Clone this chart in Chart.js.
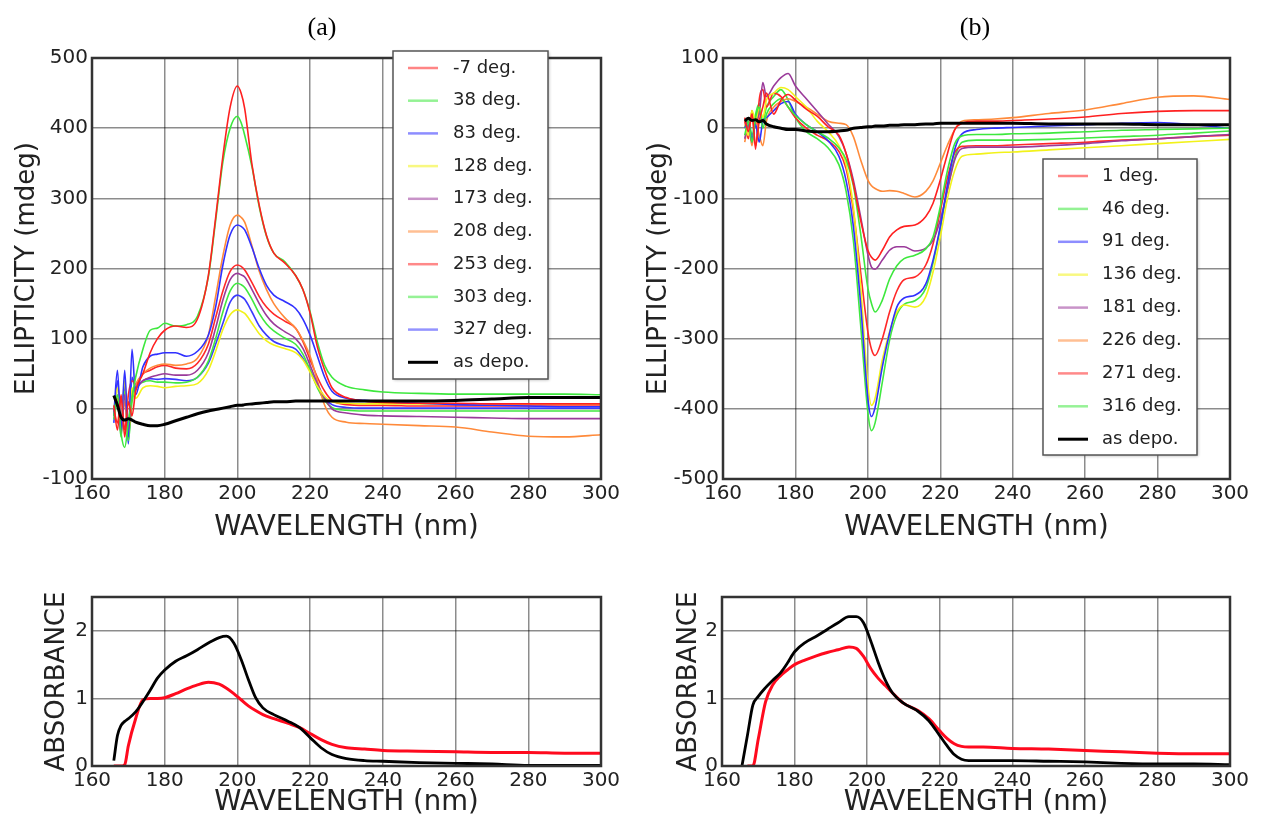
<!DOCTYPE html>
<html>
<head>
<meta charset="utf-8">
<script src="https://cdn.jsdelivr.net/npm/chart.js@4.4.0/dist/chart.umd.min.js"></script>
<style>
  body { margin: 0; background: #fff; width: 1262px; height: 825px; overflow: hidden; position: relative; }
  canvas { position: absolute; }
</style>
</head>
<body>
<canvas id="cdA" width="631" height="560" style="left:0;top:0"></canvas>
<canvas id="cdB" width="631" height="560" style="left:631px;top:0"></canvas>
<canvas id="absA" width="631" height="265" style="left:0;top:560px"></canvas>
<canvas id="absB" width="631" height="265" style="left:631px;top:560px"></canvas>
<script>
// wavelengths (nm) for the CD spectra
const W_CD = [166, 167, 168, 169, 170, 171, 172, 174, 176, 178, 180, 183, 186, 189, 192, 194, 196, 198, 200, 201, 202, 204, 206, 208, 210, 213, 216, 218, 220, 222, 224, 226, 230, 235, 240, 250, 260, 270, 280, 290, 300];

// (a) ellipticity, mdeg
const A_LABELS = ['-7 deg.', '38 deg.', '83 deg.', '128 deg.', '173 deg.', '208 deg.', '253 deg.', '303 deg.', '327 deg.'];
const A_M7  = [5, -30, 20, -40, 10, -10, 25, 50, 80, 100, 112, 118, 116, 128, 190, 272, 360, 430, 460, 450, 428, 348, 290, 247, 222, 208, 190, 170, 136, 88, 55, 30, 16, 11, 9, 8, 8, 7, 7, 7, 7];
const A_38  = [-10, 20, -35, -55, -20, 15, 45, 85, 112, 115, 122, 118, 120, 132, 188, 268, 352, 400, 417, 408, 390, 345, 288, 246, 222, 210, 190, 170, 138, 95, 62, 45, 32, 27, 24, 22, 21, 21, 21, 21, 20];
const A_83  = [-10, 55, -30, 55, -40, 85, 20, 60, 75, 78, 80, 80, 75, 82, 105, 145, 205, 248, 262, 260, 255, 230, 200, 176, 162, 153, 143, 128, 105, 75, 45, 25, 15, 12, 10, 8, 6, 5, 4, 3, 3];
const A_128 = [0, 30, -15, 40, -20, 30, 15, 30, 33, 32, 30, 32, 33, 36, 55, 82, 113, 134, 141, 139, 136, 122, 107, 97, 91, 86, 80, 70, 52, 32, 18, 10, 8, 7, 7, 7, 7, 7, 7, 7, 7];
const A_173 = [-5, 10, -35, 20, -30, 25, 30, 40, 45, 48, 50, 48, 48, 55, 80, 115, 155, 184, 193, 191, 188, 170, 150, 133, 121, 110, 100, 86, 62, 36, 15, 0, -6, -9, -10, -11, -12, -13, -14, -14, -14];
const A_208 = [-10, 15, -25, 10, -35, 20, 35, 50, 58, 62, 64, 62, 64, 72, 105, 160, 218, 262, 276, 273, 266, 232, 196, 170, 150, 130, 115, 98, 75, 40, 5, -12, -19, -21, -22, -24, -26, -33, -39, -40, -37];
const A_253 = [0, -20, 15, -30, 20, 40, 35, 50, 55, 60, 62, 58, 57, 65, 92, 130, 168, 196, 205, 203, 198, 180, 160, 145, 135, 125, 115, 96, 70, 45, 25, 12, 6, 5, 5, 4, 4, 4, 4, 4, 4];
const A_303 = [-15, 10, -40, 25, -45, 10, 30, 38, 40, 38, 38, 37, 38, 45, 68, 100, 138, 168, 179, 177, 173, 156, 136, 121, 111, 101, 92, 78, 55, 30, 12, 2, -2, -3, -3, -3, -3, -3, -3, -3, -3];
const A_327 = [-20, 40, -25, 35, -50, 45, 30, 40, 43, 42, 43, 42, 40, 45, 65, 92, 122, 152, 162, 160, 156, 138, 118, 105, 96, 90, 85, 72, 55, 32, 15, 6, 2, 1, 1, 1, 1, 1, 1, 1, 1];
const A_DEPO = [19, 5, -12, -16, -14, -16, -19, -22, -24, -24, -22, -17, -12, -7, -3, -1, 1, 3, 5, 5, 6, 7, 8, 9, 10, 10, 11, 11, 11, 11, 11, 11, 11, 11, 11, 11, 12, 14, 16, 16, 16];

// (b) ellipticity, mdeg
const B_LABELS = ['1 deg.', '46 deg.', '91 deg.', '136 deg.', '181 deg.', '226 deg.', '271 deg.', '316 deg.'];
const B_1   = [15, -5, 20, -25, 10, 30, 50, 20, 40, 48, 40, 27, 17, 2, -10, -36, -79, -131, -174, -184, -188, -174, -155, -145, -140, -138, -126, -107, -74, -36, -2, 7, 10, 10, 11, 13, 16, 21, 24, 25, 25];
const B_46  = [-10, 10, -20, 15, 30, 0, 20, 35, 42, 30, 18, 5, -5, -14, -28, -45, -82, -150, -228, -250, -262, -245, -215, -196, -186, -181, -172, -155, -112, -60, -22, -11, -9, -9, -8, -7, -5, -3, -2, -1, 0];
const B_91  = [0, 10, -15, 5, -20, 10, 15, 25, 35, 38, 20, 5, -5, -18, -40, -75, -140, -250, -385, -411, -398, -340, -292, -255, -242, -238, -222, -188, -140, -80, -30, -8, -2, 0, 1, 3, 5, 7, 8, 5, 0];
const B_136 = [5, -10, 25, 10, 30, 15, 40, 50, 58, 55, 45, 30, 10, -5, -25, -52, -112, -225, -365, -395, -385, -330, -290, -262, -252, -255, -240, -205, -155, -100, -60, -40, -37, -35, -34, -31, -28, -25, -22, -19, -16];
const B_181 = [-15, 5, -20, 10, 20, 65, 45, 60, 72, 78, 60, 42, 24, 6, -12, -36, -74, -126, -180, -198, -201, -188, -174, -169, -169, -175, -171, -160, -131, -88, -45, -29, -27, -27, -27, -25, -22, -18, -15, -12, -9];
const B_226 = [-20, 5, -25, 10, -10, -25, 10, 30, 38, 42, 38, 30, 20, 10, 7, 5, -12, -45, -74, -82, -86, -90, -89, -90, -93, -98, -90, -75, -50, -24, -2, 10, 12, 13, 15, 21, 26, 35, 44, 46, 41];
const B_271 = [10, -15, 25, -30, 40, 55, 30, 50, 45, 30, 15, 0, -10, -18, -33, -58, -118, -205, -290, -315, -324, -300, -262, -232, -216, -212, -195, -165, -118, -70, -35, -26, -25, -25, -24, -22, -20, -17, -15, -12, -10];
const B_316 = [0, 15, -10, 20, 35, 10, 30, 45, 55, 40, 15, -5, -15, -28, -52, -90, -160, -280, -405, -431, -420, -362, -302, -266, -251, -246, -228, -192, -142, -86, -42, -20, -17, -17, -17, -16, -14, -12, -10, -7, -4];
const B_DEPO = [10, 14, 11, 12, 9, 11, 6, 2, 0, -2, -2, -4, -5, -5, -4, -3, 0, 1, 2, 2, 3, 3, 4, 4, 5, 5, 6, 6, 7, 7, 7, 7, 7, 7, 7, 6, 6, 6, 5, 5, 5];

// absorbance spectra
const W_ABS_A = [166, 167, 168, 169, 170, 172, 174, 176, 178, 180, 183, 186, 189, 192, 195, 197, 199, 201, 203, 205, 207, 210, 214, 217, 220, 223, 226, 230, 235, 240, 250, 260, 270, 280, 290, 300];
const ABS_A_BLACK = [0.08, 0.45, 0.6, 0.66, 0.7, 0.8, 0.95, 1.12, 1.3, 1.42, 1.55, 1.63, 1.72, 1.82, 1.9, 1.92, 1.82, 1.58, 1.28, 1.01, 0.86, 0.76, 0.66, 0.57, 0.42, 0.27, 0.17, 0.11, 0.08, 0.07, 0.05, 0.04, 0.03, 0.01, 0.01, 0.01];
const ABS_A_RED   = [0, 0, 0, 0.02, 0.3, 0.7, 0.98, 1.0, 1.0, 1.01, 1.07, 1.14, 1.2, 1.24, 1.21, 1.15, 1.07, 0.98, 0.89, 0.82, 0.76, 0.7, 0.63, 0.57, 0.48, 0.39, 0.32, 0.27, 0.25, 0.23, 0.22, 0.21, 0.2, 0.2, 0.19, 0.19];

const W_ABS_B = [165.5, 167, 168.5, 170, 172, 174, 176, 178, 180, 183, 186, 189, 192, 195, 197, 199, 201, 203, 205, 207, 210, 214, 217, 220, 222, 224, 226, 228, 232, 240, 250, 260, 270, 280, 290, 300];
const ABS_B_BLACK = [0, 0.45, 0.9, 1.03, 1.16, 1.27, 1.37, 1.52, 1.69, 1.83, 1.92, 2.02, 2.12, 2.21, 2.21, 2.12, 1.85, 1.54, 1.27, 1.08, 0.93, 0.81, 0.67, 0.45, 0.3, 0.17, 0.1, 0.08, 0.08, 0.08, 0.07, 0.06, 0.04, 0.03, 0.03, 0.02];
const ABS_B_RED   = [null, 0, 0, 0.4, 0.95, 1.2, 1.33, 1.42, 1.5, 1.57, 1.63, 1.68, 1.72, 1.76, 1.74, 1.62, 1.44, 1.3, 1.19, 1.08, 0.93, 0.82, 0.7, 0.52, 0.41, 0.33, 0.29, 0.28, 0.28, 0.26, 0.25, 0.23, 0.21, 0.19, 0.18, 0.18];

const COLORS_A = ['#ff2020', '#3de83d', '#3030ff', '#f2f21a', '#9a3a9a', '#ff8a3a', '#ff2828', '#40e840', '#3a3aff'];
const COLORS_B = ['#ff2020', '#3de83d', '#3030ff', '#f2f21a', '#9a3a9a', '#ff8a3a', '#ff2828', '#40e840'];

const FONT = '"DejaVu Sans", sans-serif';
const GRID = 'rgba(0,0,0,0.45)';
const INK = '#222';

function pts(xs, ys) {
    return xs.map((x, i) => ({ x: x, y: ys[i] }));
}

// black frame round the plot area
const frame = {
    id: 'frame',
    afterDatasetsDraw(chart) {
        const a = chart.chartArea, ctx = chart.ctx;
        ctx.save();
        ctx.strokeStyle = '#333';
        ctx.lineWidth = 2.5;
        ctx.strokeRect(a.left, a.top, a.right - a.left, a.bottom - a.top);
        ctx.restore();
    }
};

function panelLabel(text, x, y) {
    return {
        id: 'panelLabel',
        afterDraw(chart) {
            const ctx = chart.ctx;
            ctx.save();
            ctx.font = '26px "Liberation Serif", serif';
            ctx.fillStyle = '#000';
            ctx.textAlign = 'center';
            ctx.textBaseline = 'middle';
            ctx.fillText(text, x, y);
            ctx.restore();
        }
    };
}

function boxLegend(b) {
    return {
        id: 'boxLegend',
        afterDraw(chart) {
            const ctx = chart.ctx;
            ctx.save();
            ctx.shadowColor = 'rgba(0,0,0,0.3)';
            ctx.shadowBlur = 3;
            ctx.shadowOffsetX = 1;
            ctx.shadowOffsetY = 1;
            ctx.fillStyle = '#fff';
            ctx.fillRect(b.x, b.y, b.w, b.h);
            ctx.shadowColor = 'transparent';
            ctx.strokeStyle = '#555';
            ctx.lineWidth = 1.5;
            ctx.strokeRect(b.x, b.y, b.w, b.h);
            ctx.font = '18px ' + FONT;
            ctx.textBaseline = 'middle';
            chart.data.datasets.forEach((d, i) => {
                const y = b.y0 + i * b.row;
                const depo = d.order < 0;
                ctx.globalAlpha = depo ? 1 : 0.55;
                ctx.strokeStyle = d.borderColor;
                ctx.lineWidth = depo ? 3 : 2.5;
                ctx.beginPath();
                ctx.moveTo(b.lx, y);
                ctx.lineTo(b.lx + 30, y);
                ctx.stroke();
                ctx.globalAlpha = 1;
                ctx.fillStyle = INK;
                ctx.fillText(d.label, b.tx, y);
            });
            ctx.restore();
        }
    };
}

// geometry: lay = { top, right, yw, xh, ytPad, xtPad }
function scalesFor(lay, yMin, yMax, yStep, yTitle) {
    return {
        x: {
            type: 'linear', min: 160, max: 300,
            afterFit: s => { s.height = lay.xh; },
            border: { display: false },
            grid: { color: GRID, lineWidth: 1.5, drawTicks: false },
            ticks: { stepSize: 20, autoSkip: false, maxRotation: 0, padding: 3, color: INK, font: { family: FONT, size: 20 } },
            title: { display: true, text: 'WAVELENGTH (nm)', color: INK, font: { family: FONT, size: 27.5 }, padding: { top: 0, bottom: lay.xtPad } }
        },
        y: {
            min: yMin, max: yMax,
            afterFit: s => { s.width = lay.yw; },
            border: { display: false },
            grid: { color: GRID, lineWidth: 1.5, drawTicks: false },
            ticks: { stepSize: yStep, includeBounds: false, padding: 4, color: INK, font: { family: FONT, size: 20 } },
            title: { display: true, text: yTitle, color: INK, font: { family: FONT, size: 26 }, padding: { top: lay.ytPad, bottom: 0 } }
        }
    };
}

function baseOptions(lay, scales) {
    return {
        responsive: false,
        animation: false,
        devicePixelRatio: 1,
        layout: { padding: { top: lay.top, right: lay.right, left: 0, bottom: 0 } },
        elements: { point: { radius: 0 }, line: { cubicInterpolationMode: 'monotone' } },
        plugins: { legend: { display: false }, tooltip: { enabled: false } },
        scales: scales
    };
}

function cdChart(id, lay, yMin, yMax, labels, series, colors, depo, legendBox, tag, tagX) {
    const datasets = series.map((s, i) => ({
        label: labels[i], data: pts(W_CD, s), borderColor: colors[i], borderWidth: 1.6, order: 1
    }));
    datasets.push({ label: 'as depo.', data: pts(W_CD, depo), borderColor: '#000', borderWidth: 3, order: -1 });
    new Chart(document.getElementById(id), {
        type: 'line',
        data: { datasets: datasets },
        options: baseOptions(lay, scalesFor(lay, yMin, yMax, 100, 'ELLIPTICITY (mdeg)')),
        plugins: [frame, boxLegend(legendBox), panelLabel(tag, tagX, 28)]
    });
}

function absChart(id, lay, xs, black, red) {
    new Chart(document.getElementById(id), {
        type: 'line',
        data: {
            datasets: [
                { label: 'film', data: pts(xs, red), borderColor: '#ff0a1e', borderWidth: 3 },
                { label: 'as depo.', data: pts(xs, black), borderColor: '#000', borderWidth: 2.8, order: -1 }
            ]
        },
        options: baseOptions(lay, scalesFor(lay, 0, 2.5, 1, 'ABSORBANCE')),
        plugins: [frame]
    });
}

const LAY_CD_A = { top: 58, right: 30, yw: 92, xh: 81, ytPad: 12, xtPad: 16 };
const LAY_CD_B = { top: 58, right: 32, yw: 92, xh: 81, ytPad: 13, xtPad: 16 };
const LAY_ABS_A = { top: 37, right: 30, yw: 92, xh: 59, ytPad: 42, xtPad: 6 };
const LAY_ABS_B = { top: 37, right: 32, yw: 91, xh: 59, ytPad: 43, xtPad: 6 };

cdChart('cdA', LAY_CD_A, -100, 500, A_LABELS,
    [A_M7, A_38, A_83, A_128, A_173, A_208, A_253, A_303, A_327], COLORS_A, A_DEPO,
    { x: 393, y: 51, w: 155, h: 328, y0: 68, row: 32.7, lx: 408, tx: 453 }, '(a)', 322);

cdChart('cdB', LAY_CD_B, -500, 100, B_LABELS,
    [B_1, B_46, B_91, B_136, B_181, B_226, B_271, B_316], COLORS_B, B_DEPO,
    { x: 412, y: 159, w: 154, h: 296, y0: 176, row: 32.9, lx: 427, tx: 471 }, '(b)', 344);

absChart('absA', LAY_ABS_A, W_ABS_A, ABS_A_BLACK, ABS_A_RED);
absChart('absB', LAY_ABS_B, W_ABS_B, ABS_B_BLACK, ABS_B_RED);
</script>
</body>
</html>
